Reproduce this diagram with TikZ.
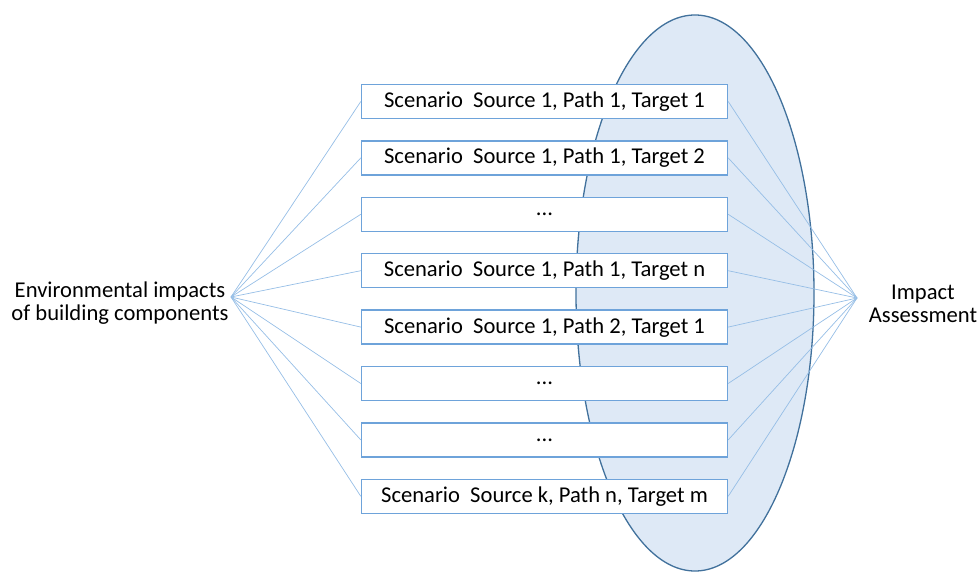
\documentclass[tikz,border=0pt]{standalone}
\usepackage{fontspec}
\setmainfont{Carlito}
\definecolor{ellfill}{RGB}{222,233,246}
\definecolor{elldraw}{RGB}{65,113,156}
\definecolor{boxdraw}{RGB}{110,163,218}
\definecolor{linkcol}{RGB}{150,190,230}
\tikzset{
  scenbox/.style={draw=boxdraw, line width=1.4pt, fill=white, minimum width=366pt, minimum height=34pt, inner sep=0pt, font=\fontsize{22.6}{26}\selectfont},
  endtext/.style={align=center, inner sep=0pt, font=\fontsize{22.6}{23.5}\selectfont},
  link/.style={draw=linkcol, line width=0.7pt}
}
\begin{document}
\begin{tikzpicture}[x=1pt,y=-1pt]
\useasboundingbox (0,0) rectangle (977,572);
\draw[fill=ellfill, draw=elldraw, line width=1.3pt] (695,293) ellipse [x radius=119, y radius=278];
\coordinate (L) at (231,297);
\coordinate (R) at (857,298);
\node[endtext] (env) at (120,303) {Environmental impacts\\of building components};
\node[endtext] (imp) at (923,304) {Impact\\Assessment};
\foreach \i/\t in {1/{Scenario\ \ Source 1, Path 1, Target 1},
                   2/{Scenario\ \ Source 1, Path 1, Target 2},
                   3/{...},
                   4/{Scenario\ \ Source 1, Path 1, Target n},
                   5/{Scenario\ \ Source 1, Path 2, Target 1},
                   6/{...},
                   7/{...},
                   8/{Scenario\ \ Source k, Path n, Target m}}{
  \node[scenbox] (b\i) at (544.5,{101.5+56.4*(\i-1)}) {\t};
  \draw[link] (L) -- (b\i.west);
  \draw[link] (b\i.east) -- (R);
}
\end{tikzpicture}
\end{document}
